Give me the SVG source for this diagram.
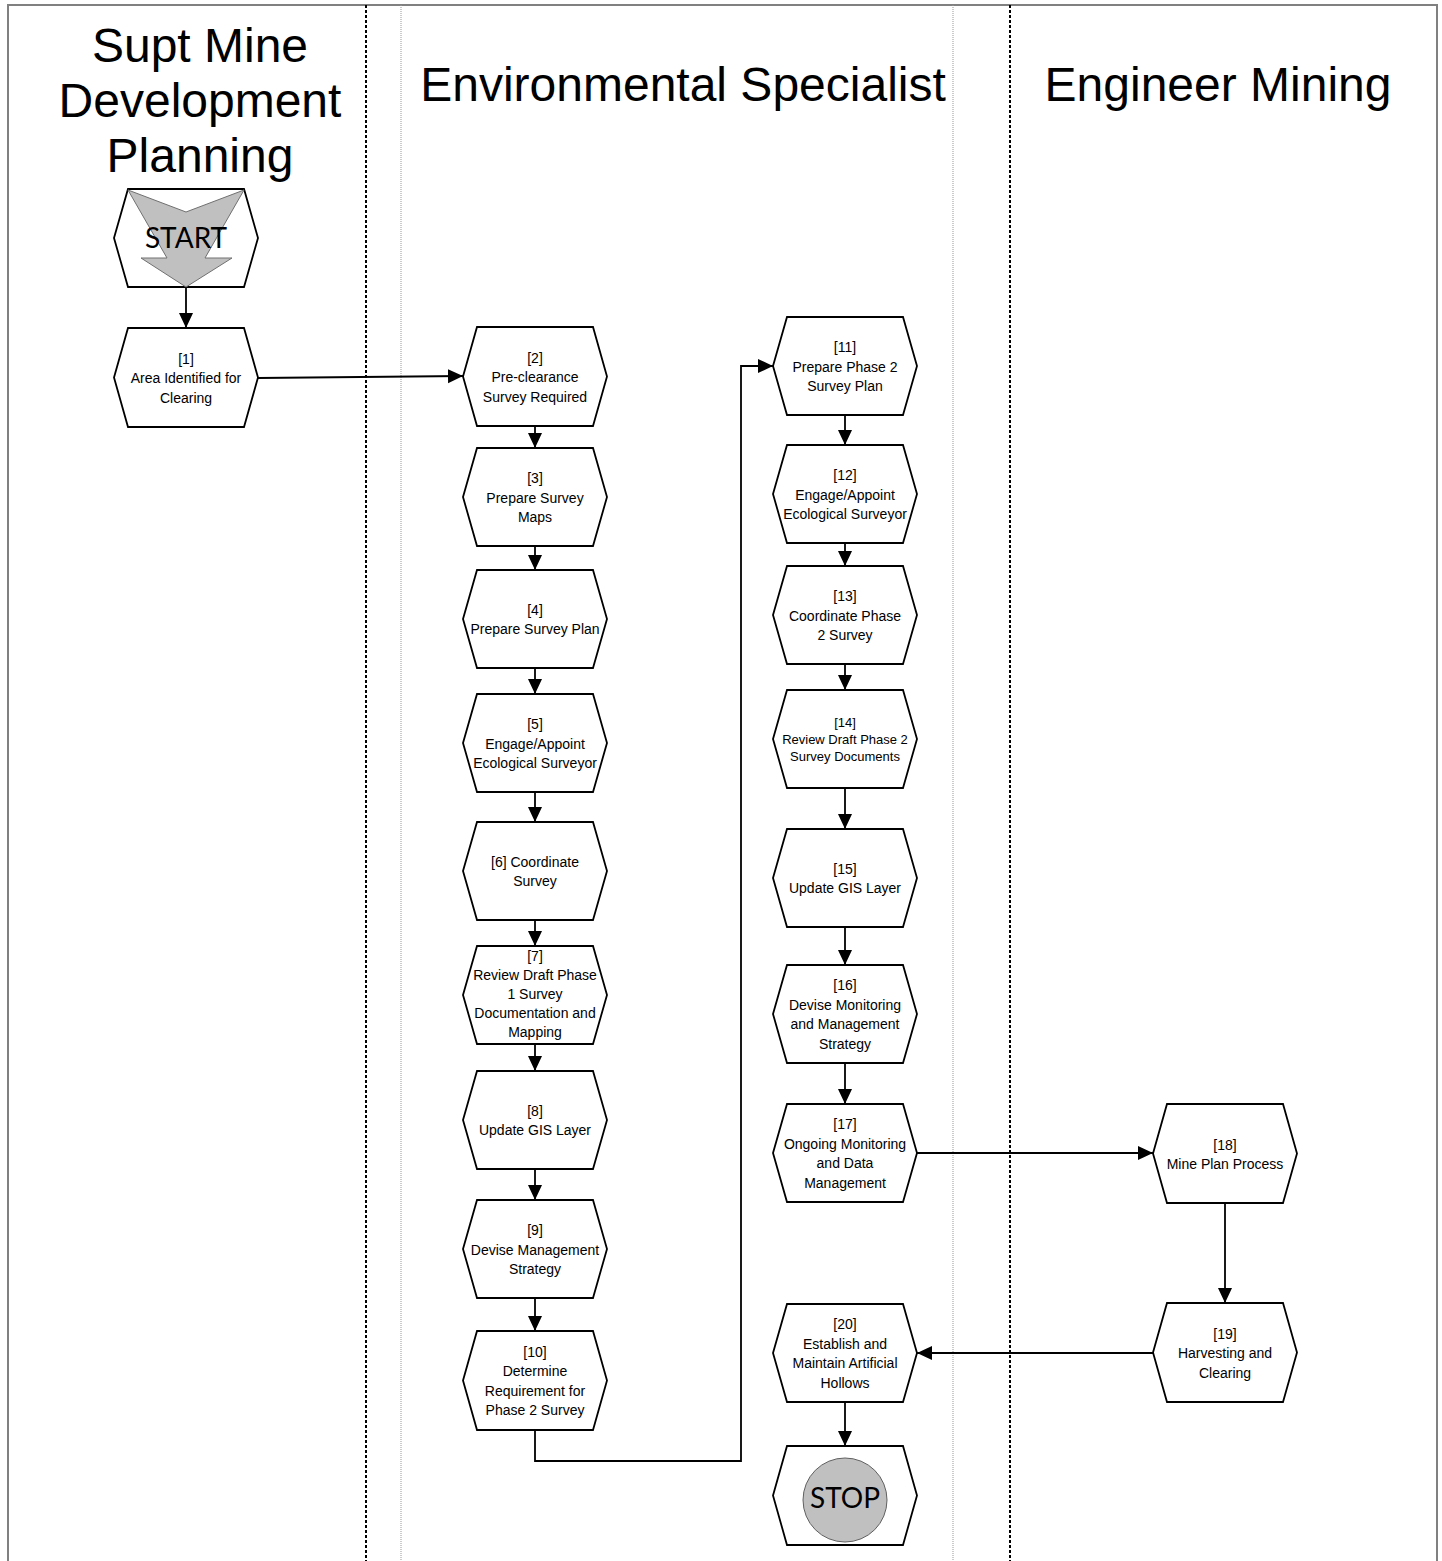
<svg xmlns="http://www.w3.org/2000/svg" width="1442" height="1561" viewBox="0 0 1442 1561">
<style>
.hex{fill:#fff;stroke:#000;stroke-width:1.8;stroke-linejoin:miter}
.t{font-family:"Liberation Sans",Arial,sans-serif;font-size:14px;text-anchor:middle;fill:#000}
.t13{font-size:13px}
.lane{font-family:"Liberation Sans",Arial,sans-serif;font-size:48px;text-anchor:middle;fill:#000}
.term{font-family:Lato,"Open Sans",sans-serif;font-size:28px;text-anchor:middle;fill:#000}
.conn{fill:none;stroke:#000;stroke-width:1.8;marker-end:url(#arr)}
.sepThick{stroke:#000;stroke-width:2;stroke-dasharray:3 2;fill:none}
.sepThin{stroke:#999;stroke-width:1;stroke-dasharray:1 1;fill:none}
</style>
<defs>
<marker id="arr" markerUnits="userSpaceOnUse" markerWidth="16" markerHeight="16" refX="15" refY="7" orient="auto">
<path d="M0,0 L15,7 L0,14 Z" fill="#000"/>
</marker>
</defs>
<rect x="0" y="0" width="1442" height="1561" fill="#fff"/>
<g id="lanes">
<path d="M8,1561 V5 H1437 V1561" fill="none" stroke="#808080" stroke-width="2"/>
<line class="sepThick" x1="366" y1="5" x2="366" y2="1561"/>
<line class="sepThin" x1="401" y1="5" x2="401" y2="1561"/>
<line class="sepThin" x1="953" y1="5" x2="953" y2="1561"/>
<line class="sepThick" x1="1010" y1="5" x2="1010" y2="1561"/>
<text class="lane" x="200" y="62">Supt Mine</text>
<text class="lane" x="200" y="117">Development</text>
<text class="lane" x="200" y="172">Planning</text>
<text class="lane" x="683" y="101">Environmental Specialist</text>
<text class="lane" x="1218" y="101">Engineer Mining</text>
</g>
<g id="connectors">
<path class="conn" d="M186,287 V328"/>
<path class="conn" d="M258,378 L463,376"/>
<path class="conn" d="M535,426 V448"/>
<path class="conn" d="M535,546 V570"/>
<path class="conn" d="M535,668 V694"/>
<path class="conn" d="M535,792 V822"/>
<path class="conn" d="M535,920 V946"/>
<path class="conn" d="M535,1044 V1071"/>
<path class="conn" d="M535,1169 V1200"/>
<path class="conn" d="M535,1298 V1331"/>
<path class="conn" d="M535,1430 V1461 H741 V366 H773"/>
<path class="conn" d="M845,415 V445"/>
<path class="conn" d="M845,543 V566"/>
<path class="conn" d="M845,664 V690"/>
<path class="conn" d="M845,788 V829"/>
<path class="conn" d="M845,927 V965"/>
<path class="conn" d="M845,1063 V1104"/>
<path class="conn" d="M917,1153 H1153"/>
<path class="conn" d="M1225,1203 V1303"/>
<path class="conn" d="M1153,1353 H917"/>
<path class="conn" d="M845,1402 V1446"/>
</g>
<g id="start">
<path class="hex" d="M128,189 H244 L258,238 L244,287 H128 L114,238 Z"/>
<path d="M128,190 L186,212 L244,190 L205,258 L232,258 L186,287 L141,258 L167,258 Z" fill="#c0c0c0" stroke="#707070" stroke-width="1"/>
<text class="term" x="186" y="248">START</text>
</g>
<g id="n1">
<path class="hex" d="M128,328 H244 L258,377.5 L244,427 H128 L114,377.5 Z"/>
<text class="t"><tspan x="186" y="363.5">[1]</tspan><tspan x="186" y="383">Area Identified for</tspan><tspan x="186" y="402.5">Clearing</tspan></text>
</g>
<g id="n2">
<path class="hex" d="M477,327 H593 L607,376.5 L593,426 H477 L463,376.5 Z"/>
<text class="t"><tspan x="535" y="362.5">[2]</tspan><tspan x="535" y="382">Pre-clearance</tspan><tspan x="535" y="401.5">Survey Required</tspan></text>
</g>
<g id="n3">
<path class="hex" d="M477,448 H593 L607,497 L593,546 H477 L463,497 Z"/>
<text class="t"><tspan x="535" y="483">[3]</tspan><tspan x="535" y="502.5">Prepare Survey</tspan><tspan x="535" y="522">Maps</tspan></text>
</g>
<g id="n4">
<path class="hex" d="M477,570 H593 L607,619 L593,668 H477 L463,619 Z"/>
<text class="t"><tspan x="535" y="615">[4]</tspan><tspan x="535" y="634">Prepare Survey Plan</tspan></text>
</g>
<g id="n5">
<path class="hex" d="M477,694 H593 L607,743 L593,792 H477 L463,743 Z"/>
<text class="t"><tspan x="535" y="729">[5]</tspan><tspan x="535" y="748.5">Engage/Appoint</tspan><tspan x="535" y="768">Ecological Surveyor</tspan></text>
</g>
<g id="n6">
<path class="hex" d="M477,822 H593 L607,871 L593,920 H477 L463,871 Z"/>
<text class="t"><tspan x="535" y="867">[6] Coordinate</tspan><tspan x="535" y="886">Survey</tspan></text>
</g>
<g id="n7">
<path class="hex" d="M477,946 H593 L607,995 L593,1044 H477 L463,995 Z"/>
<text class="t"><tspan x="535" y="961">[7]</tspan><tspan x="535" y="980">Review Draft Phase</tspan><tspan x="535" y="999">1 Survey</tspan><tspan x="535" y="1018">Documentation and</tspan><tspan x="535" y="1037">Mapping</tspan></text>
</g>
<g id="n8">
<path class="hex" d="M477,1071 H593 L607,1120 L593,1169 H477 L463,1120 Z"/>
<text class="t"><tspan x="535" y="1116">[8]</tspan><tspan x="535" y="1135">Update GIS Layer</tspan></text>
</g>
<g id="n9">
<path class="hex" d="M477,1200 H593 L607,1249 L593,1298 H477 L463,1249 Z"/>
<text class="t"><tspan x="535" y="1235">[9]</tspan><tspan x="535" y="1254.5">Devise Management</tspan><tspan x="535" y="1274">Strategy</tspan></text>
</g>
<g id="n10">
<path class="hex" d="M477,1331 H593 L607,1380.5 L593,1430 H477 L463,1380.5 Z"/>
<text class="t"><tspan x="535" y="1356.5">[10]</tspan><tspan x="535" y="1376">Determine</tspan><tspan x="535" y="1395.5">Requirement for</tspan><tspan x="535" y="1415">Phase 2 Survey</tspan></text>
</g>
<g id="n11">
<path class="hex" d="M787,317 H903 L917,366 L903,415 H787 L773,366 Z"/>
<text class="t"><tspan x="845" y="352">[11]</tspan><tspan x="845" y="371.5">Prepare Phase 2</tspan><tspan x="845" y="391">Survey Plan</tspan></text>
</g>
<g id="n12">
<path class="hex" d="M787,445 H903 L917,494 L903,543 H787 L773,494 Z"/>
<text class="t"><tspan x="845" y="480">[12]</tspan><tspan x="845" y="499.5">Engage/Appoint</tspan><tspan x="845" y="519">Ecological Surveyor</tspan></text>
</g>
<g id="n13">
<path class="hex" d="M787,566 H903 L917,615 L903,664 H787 L773,615 Z"/>
<text class="t"><tspan x="845" y="601">[13]</tspan><tspan x="845" y="620.5">Coordinate Phase</tspan><tspan x="845" y="640">2 Survey</tspan></text>
</g>
<g id="n14">
<path class="hex" d="M787,690 H903 L917,739 L903,788 H787 L773,739 Z"/>
<text class="t t13"><tspan x="845" y="727">[14]</tspan><tspan x="845" y="744">Review Draft Phase 2</tspan><tspan x="845" y="761">Survey Documents</tspan></text>
</g>
<g id="n15">
<path class="hex" d="M787,829 H903 L917,878 L903,927 H787 L773,878 Z"/>
<text class="t"><tspan x="845" y="874">[15]</tspan><tspan x="845" y="893">Update GIS Layer</tspan></text>
</g>
<g id="n16">
<path class="hex" d="M787,965 H903 L917,1014 L903,1063 H787 L773,1014 Z"/>
<text class="t"><tspan x="845" y="990">[16]</tspan><tspan x="845" y="1009.5">Devise Monitoring</tspan><tspan x="845" y="1029">and Management</tspan><tspan x="845" y="1048.5">Strategy</tspan></text>
</g>
<g id="n17">
<path class="hex" d="M787,1104 H903 L917,1153 L903,1202 H787 L773,1153 Z"/>
<text class="t"><tspan x="845" y="1129">[17]</tspan><tspan x="845" y="1148.5">Ongoing Monitoring</tspan><tspan x="845" y="1168">and Data</tspan><tspan x="845" y="1187.5">Management</tspan></text>
</g>
<g id="n18">
<path class="hex" d="M1167,1104 H1283 L1297,1153.5 L1283,1203 H1167 L1153,1153.5 Z"/>
<text class="t"><tspan x="1225" y="1149.5">[18]</tspan><tspan x="1225" y="1169">Mine Plan Process</tspan></text>
</g>
<g id="n19">
<path class="hex" d="M1167,1303 H1283 L1297,1352.5 L1283,1402 H1167 L1153,1352.5 Z"/>
<text class="t"><tspan x="1225" y="1338.5">[19]</tspan><tspan x="1225" y="1358">Harvesting and</tspan><tspan x="1225" y="1377.5">Clearing</tspan></text>
</g>
<g id="n20">
<path class="hex" d="M787,1304 H903 L917,1353 L903,1402 H787 L773,1353 Z"/>
<text class="t"><tspan x="845" y="1329">[20]</tspan><tspan x="845" y="1348.5">Establish and</tspan><tspan x="845" y="1368">Maintain Artificial</tspan><tspan x="845" y="1387.5">Hollows</tspan></text>
</g>
<g id="stop">
<path class="hex" d="M787,1446 H903 L917,1495.5 L903,1545 H787 L773,1495.5 Z"/>
<circle cx="845" cy="1500" r="42" fill="#c0c0c0" stroke="#606060" stroke-width="1"/>
<text class="term" x="845" y="1508">STOP</text>
</g>
</svg>
